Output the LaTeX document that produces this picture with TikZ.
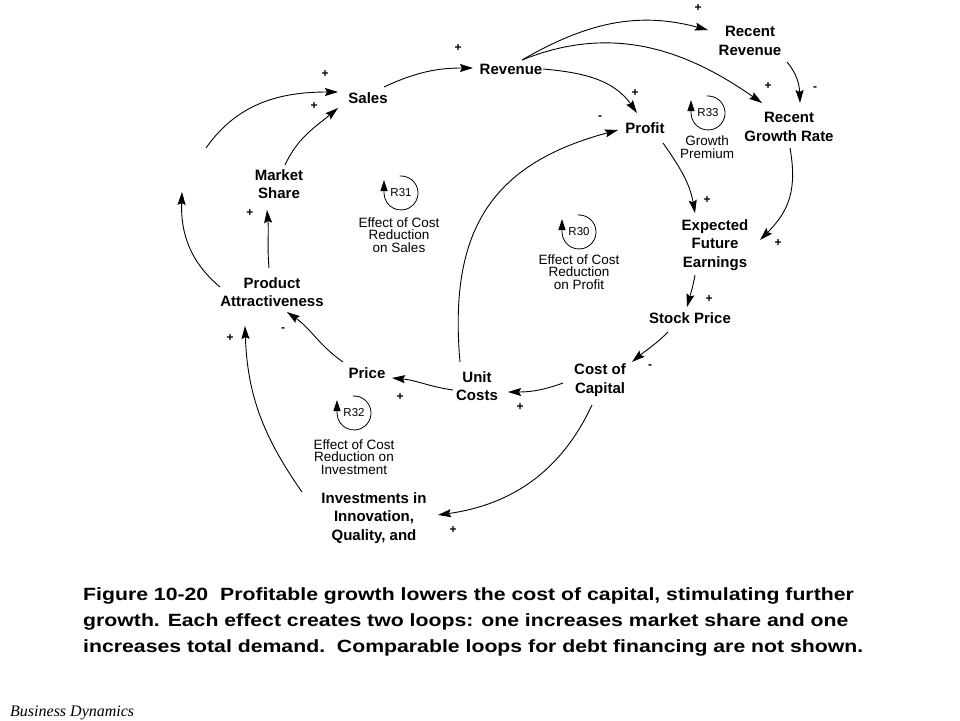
\documentclass[tikz,border=0pt]{standalone}
\usepackage{fontspec}
\setmainfont{Liberation Sans}
\newfontfamily\serifit{Liberation Serif}
\usetikzlibrary{arrows.meta,calc}
\begin{document}
\begin{tikzpicture}[x=1pt,y=1pt,
  var/.style={font=\fontsize{15}{18.5}\selectfont\bfseries, align=center, inner sep=0pt},
  lnk/.style={line width=0.9pt, -{Stealth[length=13pt,width=8pt,inset=2pt]}},
  sgn/.style={font=\fontsize{12}{12}\selectfont\bfseries, inner sep=0pt},
  looplbl/.style={font=\fontsize{11.5}{11.5}\selectfont, inner sep=0pt},
  loopdesc/.style={font=\fontsize{13.5}{12.5}\selectfont, align=center, inner sep=0pt},
  loopar/.style={line width=0.8pt, -{Triangle[length=11pt,width=7pt]}}
]
\fill[white] (0,0) rectangle (960,-720);
\useasboundingbox (0,0) rectangle (960,-720);

% variables
\node[var] (sales) at (368,-98) {Sales};
\node[var] (rev) at (511,-69) {Revenue};
\node[var] (rrev) at (750,-41) {Recent\\Revenue};
\node[var] (rgr) at (789,-127) {Recent\\Growth Rate};
\node[var] (profit) at (645,-128) {Profit};
\node[var] (efe) at (715,-245) {Expected\\Future\\Earnings};
\node[var] (sp) at (690,-318) {Stock Price};
\node[var] (coc) at (600,-380) {Cost of\\Capital};
\node[var] (uc) at (477,-386) {Unit\\Costs};
\node[var] (price) at (367,-373) {Price};
\node[var] (pa) at (272,-292) {Product\\Attractiveness};
\node[var] (ms) at (279,-184) {Market\\Share};
\node[var] (inv) at (374,-518) {Investments in\\Innovation,\\Quality, and};
\coordinate (indIn) at (182,-192);
\coordinate (indOut) at (206,-148);

% connectors
\draw[lnk] ($(sales)+(16,11)$) to[out=25,in=180] ($(rev)+(-38,1)$);
\draw[lnk] (indOut) to[out=55,in=180] ($(sales)+(-30,6)$);
\draw[lnk] ($(ms)+(6,19)$) to[out=65,in=220] ($(sales)+(-30,-10)$);
\draw[lnk] ($(pa)+(-3,24)$) to[out=95,in=-85] ($(ms)+(-12,-26)$);
\draw[lnk] ($(pa)+(-52,5)$) to[out=140,in=-92] (indIn);
\draw[lnk] ($(price)+(-24,11)$) to[out=145,in=-35] ($(pa)+(15,-20)$);
\draw[lnk] ($(inv)+(-72,26)$) to[out=125,in=-88] ($(pa)+(-27,-34)$);
\draw[lnk] ($(uc)+(-24,-4)$) to[out=172,in=-5] ($(price)+(25,-5)$);
\draw[lnk] ($(coc)+(-37,-3)$) to[out=200,in=0] ($(uc)+(31,-6)$);
\draw[lnk] ($(coc)+(-8,-25)$) to[out=-115,in=8] ($(inv)+(64,3)$);
\draw[lnk] ($(uc)+(-17,24)$) to[out=95,in=195,looseness=1.2] ($(profit)+(-27,-2)$);
\draw[lnk] ($(rev)+(32,0)$) to[out=-5,in=125] ($(profit)+(-8,15)$);
\draw[lnk] ($(rev)+(11,9)$) to[out=30,in=165] ($(rrev)+(-42,11)$);
\draw[lnk] ($(rev)+(11,9)$) to[out=22,in=145] ($(rgr)+(-27,24)$);
\draw[lnk] ($(rrev)+(37,-21)$) to[out=-50,in=92] ($(rgr)+(11,24)$);
\draw[lnk] ($(profit)+(18,-15)$) to[out=-55,in=100] ($(efe)+(-20,32)$);
\draw[lnk] ($(rgr)+(1,-21)$) to[out=-80,in=45,looseness=1.1] ($(efe)+(45,5)$);
\draw[lnk] ($(efe)+(-20,-30)$) to[out=-100,in=75] ($(sp)+(-3,11)$);
\draw[lnk] ($(sp)+(-22,-14)$) to[out=-135,in=40] ($(coc)+(32,18)$);

% polarity signs
\node[sgn] (g1) at (458,-48) {+};
\node[sgn] (g2) at (325,-74) {+};
\node[sgn] (g3) at (314,-106) {+};
\node[sgn] (g4) at (250,-213) {+};
\node[sgn] (g6) at (283,-330) {-};
\node[sgn] (g7) at (230,-338) {+};
\node[sgn] (g8) at (400,-397) {+};
\node[sgn] (g9) at (520,-407) {+};
\node[sgn] (g10) at (453,-530) {+};
\node[sgn] (g11) at (600,-118) {-};
\node[sgn] (g12) at (635,-93) {+};
\node[sgn] (g13) at (698,-8) {+};
\node[sgn] (g14) at (768,-86) {+};
\node[sgn] (g15) at (815,-89) {-};
\node[sgn] (g16) at (707,-200) {+};
\node[sgn] (g17) at (778,-243) {+};
\node[sgn] (g18) at (709,-299) {+};
\node[sgn] (g19) at (650,-367) {-};

% loop identifiers
\node[looplbl] (r31) at (401,-193) {R31};
\draw[loopar] ($(r31)+(95:17)$) arc[start angle=95, end angle=-180, radius=17] -- ++(0,13);
\node[loopdesc] (d31) at (399,-235) {Effect of Cost\\Reduction\\on Sales};

\node[looplbl] (r33) at (708,-113) {R33};
\draw[loopar] ($(r33)+(95:17)$) arc[start angle=95, end angle=-180, radius=17] -- ++(0,13);
\node[loopdesc] (d33) at (707,-147) {Growth\\Premium};

\node[looplbl] (r30) at (579,-232) {R30};
\draw[loopar] ($(r30)+(95:17)$) arc[start angle=95, end angle=-180, radius=17] -- ++(0,13);
\node[loopdesc] (d30) at (579,-272) {Effect of Cost\\Reduction\\on Profit};

\node[looplbl] (r32) at (354,-413) {R32};
\draw[loopar] ($(r32)+(95:17)$) arc[start angle=95, end angle=-180, radius=17] -- ++(0,13);
\node[loopdesc] (d32) at (354,-457) {Effect of Cost\\Reduction on\\Investment};

% caption
\node[anchor=north west, inner sep=0pt, font=\fontsize{17.7}{26}\selectfont\bfseries] (cap) at (83,-582)
  {\scalebox{1.2}[1]{\begin{tabular}{@{}l@{}}Figure 10-20\ \ Profitable growth lowers the cost of capital, stimulating further\\
   growth. Each effect creates two loops: one increases market share and one\\
   increases total demand.\ \ Comparable loops for debt financing are not shown.\end{tabular}}};
\node[anchor=base west, inner sep=0pt, font=\serifit\itshape\fontsize{16}{16}\selectfont] (bd) at (10,-716) {Business Dynamics};
\end{tikzpicture}
\end{document}
